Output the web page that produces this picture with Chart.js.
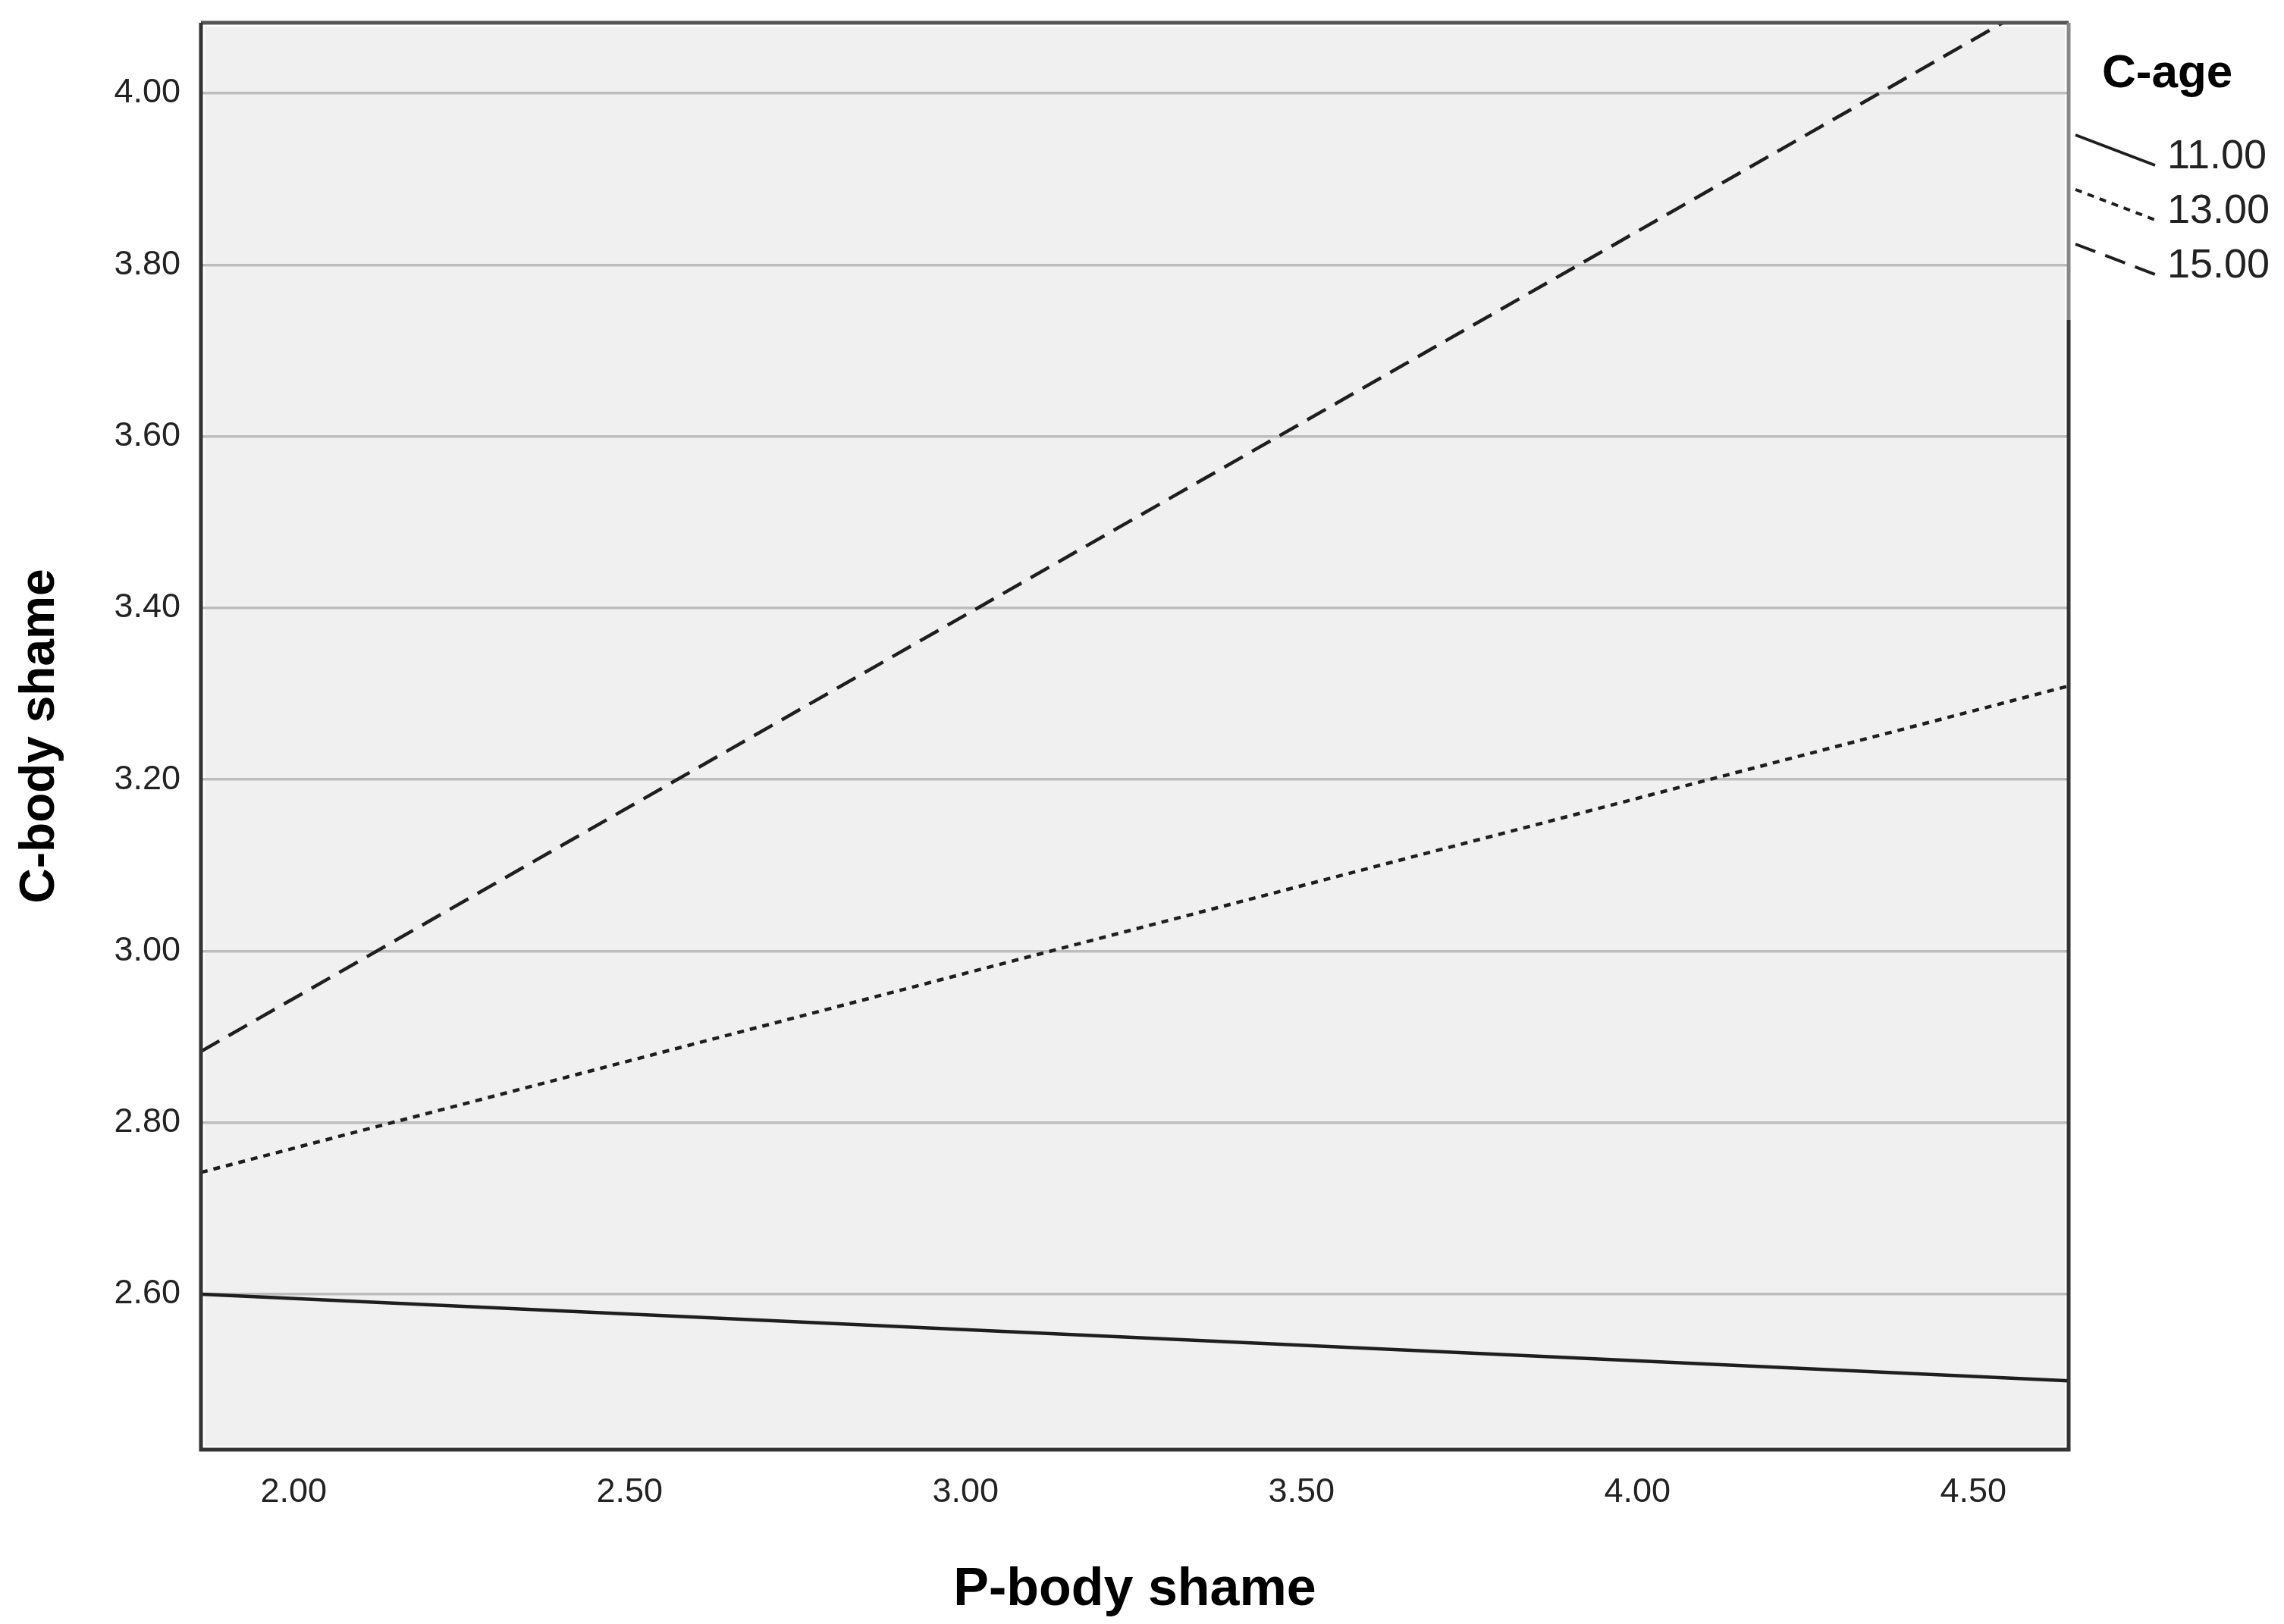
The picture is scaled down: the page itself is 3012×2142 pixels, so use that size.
<!DOCTYPE html>
<html>
<head>
<meta charset="utf-8">
<script src="https://cdn.jsdelivr.net/npm/chart.js@4.4.1/dist/chart.umd.min.js"></script>
<style>
  body { margin: 0; background: #fff; }
  canvas { display: block; }
</style>
</head>
<body>
<canvas id="chart" width="3012" height="2142" style="width:3012px;height:2142px"></canvas>
<script>
// x range of the predictor (P-body shame), ends of each simple slope line
const xEnds = [1.862, 4.642];
// C-body shame predicted at the two ends, one array per moderator level
const ageLabels = ['11.00', '13.00', '15.00'];
const age11 = [2.600, 2.499];
const age13 = [2.742, 3.309];
const age15 = [2.883, 4.126];
const legendTitle = 'C-age';
const xTitle = 'P-body shame';
const yTitle = 'C-body shame';

const FONT = "'Liberation Sans', Arial, sans-serif";

const series = [age11, age13, age15];
const dashes = [[], [9, 8], [28, 14]];

const datasets = series.map((vals, i) => ({
    label: ageLabels[i],
    data: xEnds.map((x, j) => ({ x: x, y: vals[j] })),
    borderColor: '#1e1e1e',
    borderWidth: 4.5,
    borderDash: dashes[i],
    pointRadius: 0,
    tension: 0,
    fill: false
}));

// panel background, frame and the slanted-sample legend
const spssFrame = {
    id: 'spssFrame',
    beforeDraw(chart) {
        const {ctx, chartArea: a} = chart;
        ctx.save();
        ctx.fillStyle = '#fff';
        ctx.fillRect(0, 0, chart.width, chart.height);
        ctx.fillStyle = '#f0f0f0';
        ctx.fillRect(a.left + 5, a.top + 5, a.right - a.left - 10, a.bottom - a.top - 10);
        ctx.restore();
    },
    afterDraw(chart) {
        const {ctx, chartArea: a} = chart;
        ctx.save();
        ctx.lineWidth = 5;
        ctx.strokeStyle = '#555';
        ctx.beginPath();
        ctx.moveTo(a.left, a.top);
        ctx.lineTo(a.right, a.top);
        ctx.stroke();
        ctx.strokeStyle = '#333';
        ctx.beginPath();
        ctx.moveTo(a.left, a.top);
        ctx.lineTo(a.left, a.bottom);
        ctx.lineTo(a.right, a.bottom);
        ctx.lineTo(a.right, a.top + 392);
        ctx.stroke();
        ctx.strokeStyle = '#888';
        ctx.beginPath();
        ctx.moveTo(a.right, a.top + 392);
        ctx.lineTo(a.right, a.top);
        ctx.stroke();

        // legend
        const lx = a.right + 9;
        ctx.fillStyle = '#000';
        ctx.font = 'bold 62px ' + FONT;
        ctx.textBaseline = 'alphabetic';
        ctx.textAlign = 'left';
        ctx.fillText(legendTitle, 2772, 115);
        chart.data.datasets.forEach((ds, i) => {
            const y0 = 178 + i * 72;
            ctx.strokeStyle = ds.borderColor;
            ctx.lineWidth = 4;
            ctx.setLineDash(ds.borderDash);
            ctx.beginPath();
            ctx.moveTo(lx, y0);
            ctx.lineTo(lx + 105, y0 + 40);
            ctx.stroke();
            ctx.setLineDash([]);
            ctx.fillStyle = '#222';
            ctx.font = '54px ' + FONT;
            ctx.fillText(ds.label, 2858, y0 + 44);
        });
        ctx.restore();
    }
};

new Chart(document.getElementById('chart'), {
    type: 'line',
    data: { datasets: datasets },
    plugins: [spssFrame],
    options: {
        responsive: false,
        devicePixelRatio: 1,
        animation: false,
        layout: { padding: { left: 0, top: 30, right: 284, bottom: 0 } },
        plugins: { legend: { display: false }, tooltip: { enabled: false } },
        scales: {
            x: {
                type: 'linear',
                min: xEnds[0],
                max: xEnds[1],
                afterFit: s => {
                    s.height = 230;
                    s.paddingLeft = 0;
                    s.paddingRight = 0;
                },
                border: { display: false },
                grid: { display: false, drawTicks: false },
                ticks: {
                    stepSize: 0.5,
                    includeBounds: false,
                    padding: 30,
                    color: '#222',
                    font: { family: FONT, size: 45 },
                    callback: v => v.toFixed(2)
                },
                title: {
                    display: true,
                    text: xTitle,
                    color: '#000',
                    font: { family: FONT, size: 70, weight: 'bold' },
                    padding: { top: 0, bottom: 2 }
                }
            },
            y: {
                min: 2.4188,
                max: 4.0822,
                afterFit: s => {
                    s.width = 265;
                    s.paddingTop = 0;
                    s.paddingBottom = 0;
                },
                border: { display: false },
                grid: { color: '#bdbdbd', lineWidth: 3.5, drawTicks: false },
                ticks: {
                    stepSize: 0.2,
                    includeBounds: false,
                    padding: 27,
                    color: '#222',
                    font: { family: FONT, size: 45 },
                    callback: v => v.toFixed(2)
                },
                title: {
                    display: true,
                    text: yTitle,
                    color: '#000',
                    font: { family: FONT, size: 64, weight: 'bold' },
                    padding: { top: 15, bottom: 0 }
                }
            }
        }
    }
});
</script>
</body>
</html>
